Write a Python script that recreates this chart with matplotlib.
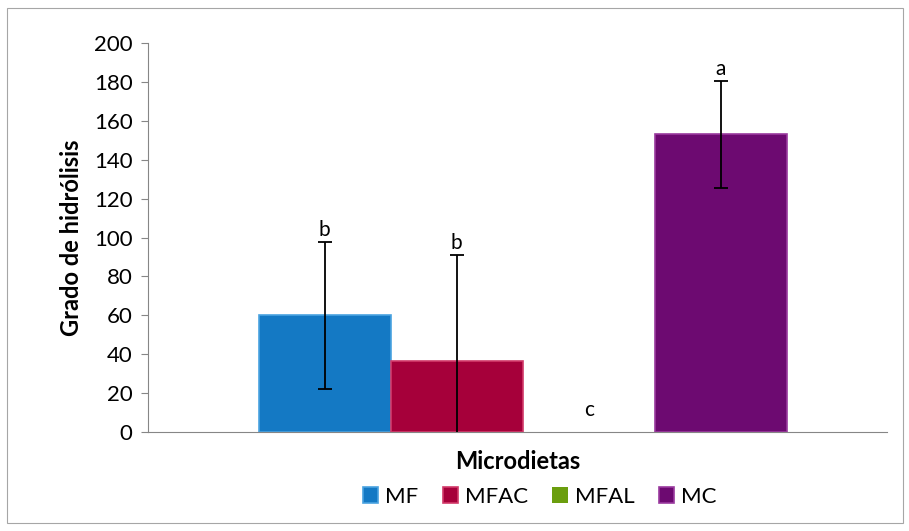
import matplotlib.pyplot as plt
from matplotlib.patches import Rectangle

plt.rcParams['font.family'] = ['Lato', 'DejaVu Sans']

# data
series = ["MF", "MFAC", "MFAL", "MC"]
means = [60.2, 36.5, 0.0, 153.2]
err_low = [38.1, 54.5, 0.0, 27.8]
err_high = [37.5, 54.5, 0.0, 27.3]
letters = ["b", "b", "c", "a"]
colors = ["#1479C4", "#A6003A", "#6B9E0E", "#6D0A71"]
edges = ["#4AA3E0", "#D23A6A", "#93C83A", "#9A3A9E"]

fig = plt.figure(figsize=(9.09, 5.31), dpi=100)
ax = fig.add_axes([148 / 909, 1 - 432 / 531, 739 / 909, 389 / 531])

# outer chart border like Excel
fig.patches.append(Rectangle((7 / 909, 8 / 531), 896 / 909, 515 / 531,
                             transform=fig.transFigure, fill=False,
                             edgecolor="#A6A6A6", linewidth=0.8))

width = 132 / 739
center = 0.007
for i, name in enumerate(series):
    x = center + (i - 1.5) * width
    lw = 1.2 if means[i] > 0 else 0
    ax.bar(x, means[i], width=width, color=colors[i], edgecolor=edges[i],
           linewidth=lw, label=name, zorder=2)
    if means[i] > 0:
        ax.errorbar(x, means[i], yerr=[[err_low[i]], [err_high[i]]], fmt="none",
                    ecolor="black", elinewidth=1.3, capsize=5, capthick=1.3, zorder=3)
        ytxt = means[i] + err_high[i] + 1
    else:
        ytxt = 6
    ax.text(x, ytxt, letters[i], ha="center", va="bottom", fontsize=15)

ax.set_xlim(-0.5, 0.5)
ax.set_ylim(0, 200)
ax.set_yticks(range(0, 201, 20))
ax.set_xticks([])
ax.tick_params(axis="y", labelsize=16, length=5, color="#868686", pad=6)
for s in ["top", "right"]:
    ax.spines[s].set_visible(False)
for s in ["left", "bottom"]:
    ax.spines[s].set_color("#868686")
ax.set_ylabel("Grado de hidrólisis", fontsize=17, fontweight="bold", labelpad=8)
ax.set_xlabel("Microdietas", fontsize=17, fontweight="bold", labelpad=13)

ax.legend(loc="upper center", bbox_to_anchor=(0.53, -0.09), ncol=4, frameon=False,
          fontsize=16, handlelength=0.7, handleheight=0.7, handletextpad=0.3,
          columnspacing=1.1)

fig.savefig("out.png", dpi=100)
